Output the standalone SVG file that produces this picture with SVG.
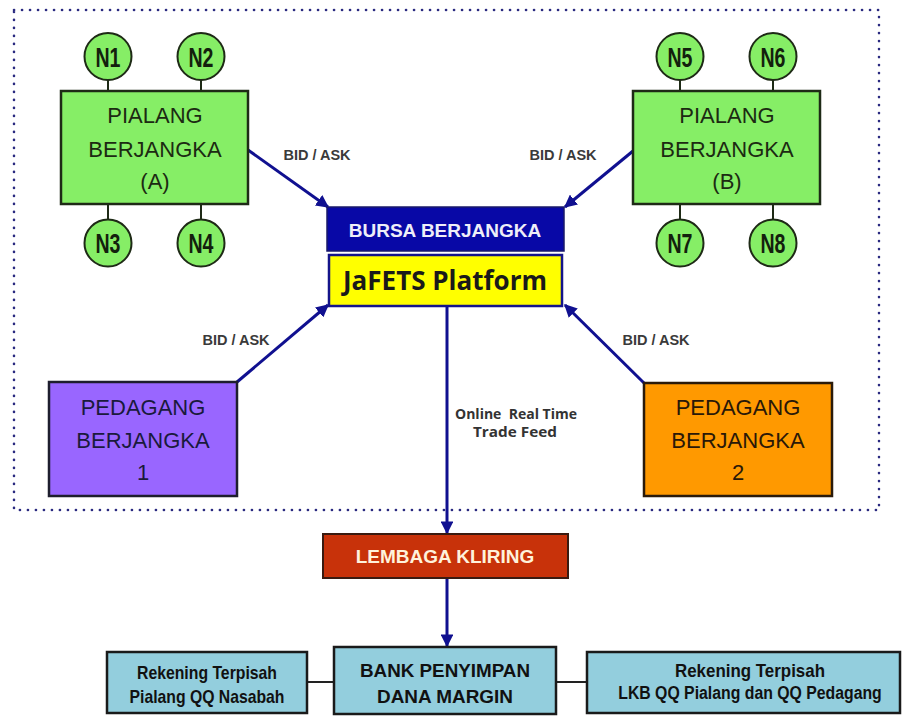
<svg xmlns="http://www.w3.org/2000/svg" width="904" height="716" viewBox="0 0 904 716">
<defs>
<style>
.frame{fill:none;stroke:#2a2a80;stroke-width:2.6;stroke-dasharray:0.1 7.9;stroke-linecap:round}
.green{fill:#86EE66;stroke:#1e2a16;stroke-width:2.5}
.circ{fill:#86EE66;stroke:#1e2a16;stroke-width:2}
.stub{stroke:#1e2a16;stroke-width:2}
.nlab{font-family:"Liberation Sans",Arial,sans-serif;font-weight:bold;font-size:28px;fill:#13200d;text-anchor:middle}
.big{font-family:"Liberation Sans",Arial,sans-serif;font-size:22px;text-anchor:middle}
.bid{font-family:"Liberation Sans",Arial,sans-serif;font-weight:bold;font-size:14.5px;fill:#3a3a3a;text-anchor:middle}
.conn{stroke:#101090;stroke-width:3;fill:none}
.thin{stroke:#222;stroke-width:2;fill:none}
.blue{fill:#93CEDD;stroke:#1a1a1a;stroke-width:2.5}
.narrow{font-family:"Liberation Sans",Arial,sans-serif;font-weight:bold;font-size:19px;fill:#111;text-anchor:middle}
</style>
<marker id="ah" viewBox="0 0 10 10" refX="9" refY="5" markerWidth="4.3" markerHeight="4.3" orient="auto" markerUnits="strokeWidth">
<path d="M0,0 L10,5 L0,10 z" fill="#101090"/>
</marker>
</defs>
<rect width="904" height="716" fill="#ffffff"/>
<rect class="frame" x="14" y="10" width="865" height="500"/>

<g id="connectors">
<line class="stub" x1="108" y1="80" x2="108" y2="91"/>
<line class="stub" x1="201" y1="80" x2="201" y2="91"/>
<line class="stub" x1="108" y1="204" x2="108" y2="219"/>
<line class="stub" x1="201" y1="204" x2="201" y2="219"/>
<line class="stub" x1="680" y1="80" x2="680" y2="91"/>
<line class="stub" x1="773" y1="80" x2="773" y2="91"/>
<line class="stub" x1="680" y1="204" x2="680" y2="219"/>
<line class="stub" x1="773" y1="204" x2="773" y2="219"/>
<line class="conn" x1="248" y1="150" x2="328" y2="207" marker-end="url(#ah)"/>
<line class="conn" x1="633" y1="151" x2="565" y2="207" marker-end="url(#ah)"/>
<line class="conn" x1="237" y1="382" x2="328" y2="305" marker-end="url(#ah)"/>
<line class="conn" x1="644" y1="383" x2="565" y2="305" marker-end="url(#ah)"/>
<line class="conn" x1="447" y1="306" x2="447" y2="533" marker-end="url(#ah)"/>
<line class="conn" x1="447" y1="578" x2="447" y2="646" marker-end="url(#ah)"/>
<line class="thin" x1="307" y1="682" x2="335" y2="682"/>
<line class="thin" x1="556" y1="682" x2="587" y2="682"/>
<text class="bid" x="317" y="160">BID / ASK</text>
<text class="bid" x="563" y="160">BID / ASK</text>
<text class="bid" x="236" y="345">BID / ASK</text>
<text class="bid" x="656" y="345">BID / ASK</text>
<text font-family="'Open Sans',sans-serif" font-weight="bold" font-size="13.5" fill="#333" text-anchor="middle" x="516" y="419" textLength="122" lengthAdjust="spacingAndGlyphs" style="white-space:pre">Online  Real Time</text>
<text font-family="'Open Sans',sans-serif" font-weight="bold" font-size="13.5" fill="#333" text-anchor="middle" x="515" y="437" textLength="84" lengthAdjust="spacingAndGlyphs">Trade Feed</text>
</g>

<g id="n1"><circle class="circ" cx="108" cy="56.5" r="23.5"/><text class="nlab" x="108" y="66.5" textLength="25" lengthAdjust="spacingAndGlyphs">N1</text></g>
<g id="n2"><circle class="circ" cx="201" cy="56.5" r="23.5"/><text class="nlab" x="201" y="66.5" textLength="25" lengthAdjust="spacingAndGlyphs">N2</text></g>
<g id="n3"><circle class="circ" cx="108" cy="243" r="23.5"/><text class="nlab" x="108" y="253" textLength="25" lengthAdjust="spacingAndGlyphs">N3</text></g>
<g id="n4"><circle class="circ" cx="201" cy="243" r="23.5"/><text class="nlab" x="201" y="253" textLength="25" lengthAdjust="spacingAndGlyphs">N4</text></g>
<g id="n5"><circle class="circ" cx="680" cy="56.5" r="23.5"/><text class="nlab" x="680" y="66.5" textLength="25" lengthAdjust="spacingAndGlyphs">N5</text></g>
<g id="n6"><circle class="circ" cx="773" cy="56.5" r="23.5"/><text class="nlab" x="773" y="66.5" textLength="25" lengthAdjust="spacingAndGlyphs">N6</text></g>
<g id="n7"><circle class="circ" cx="680" cy="243" r="23.5"/><text class="nlab" x="680" y="253" textLength="25" lengthAdjust="spacingAndGlyphs">N7</text></g>
<g id="n8"><circle class="circ" cx="773" cy="243" r="23.5"/><text class="nlab" x="773" y="253" textLength="25" lengthAdjust="spacingAndGlyphs">N8</text></g>

<g id="pialang-a">
<rect class="green" x="61" y="91" width="187" height="113"/>
<text class="big" fill="#1c2a12" x="155" y="123">PIALANG</text>
<text class="big" fill="#1c2a12" x="155" y="157">BERJANGKA</text>
<text class="big" fill="#1c2a12" x="155" y="189">(A)</text>
</g>
<g id="pialang-b">
<rect class="green" x="633" y="91" width="187" height="113"/>
<text class="big" fill="#1c2a12" x="727" y="123">PIALANG</text>
<text class="big" fill="#1c2a12" x="727" y="157">BERJANGKA</text>
<text class="big" fill="#1c2a12" x="727" y="189">(B)</text>
</g>

<g id="bursa">
<rect x="327" y="207" width="237" height="44" fill="#0808A6" stroke="#1a1a6a" stroke-width="1.5"/>
<text font-family="'Liberation Sans',Arial,sans-serif" font-weight="bold" font-size="19" fill="#EEEEF8" text-anchor="middle" x="445" y="237">BURSA BERJANGKA</text>
</g>
<g id="jafets">
<rect x="329" y="255" width="233" height="51" fill="#FFFF00" stroke="#14148a" stroke-width="2.5"/>
<text font-family="'Open Sans',sans-serif" font-weight="bold" font-size="26" fill="#1a1a1a" text-anchor="middle" x="445" y="290" textLength="204" lengthAdjust="spacingAndGlyphs">JaFETS Platform</text>
</g>

<g id="pedagang-1">
<rect x="49" y="382" width="188" height="114" fill="#9966FF" stroke="#1e1e2e" stroke-width="2.5"/>
<text class="big" font-size="23" fill="#1a1a3c" x="143" y="415">PEDAGANG</text>
<text class="big" font-size="23" fill="#1a1a3c" x="143" y="448">BERJANGKA</text>
<text class="big" font-size="23" fill="#1a1a3c" x="143" y="480">1</text>
</g>
<g id="pedagang-2">
<rect x="644" y="383" width="188" height="113" fill="#FF9900" stroke="#2a1a0a" stroke-width="2.5"/>
<text class="big" font-size="23" fill="#2a1808" x="738" y="415">PEDAGANG</text>
<text class="big" font-size="23" fill="#2a1808" x="738" y="448">BERJANGKA</text>
<text class="big" font-size="23" fill="#2a1808" x="738" y="480">2</text>
</g>

<g id="lembaga-kliring">
<rect x="323" y="534" width="245" height="44" fill="#C8320A" stroke="#3a1a10" stroke-width="2"/>
<text font-family="'Liberation Sans',Arial,sans-serif" font-weight="bold" font-size="19" fill="#FFF2DC" text-anchor="middle" x="445" y="563">LEMBAGA KLIRING</text>
</g>

<g id="bank">
<rect class="blue" x="334" y="647" width="222" height="67"/>
<text class="narrow" font-size="20" x="445" y="677" textLength="170" lengthAdjust="spacingAndGlyphs">BANK PENYIMPAN</text>
<text class="narrow" font-size="20" x="445" y="703" textLength="136" lengthAdjust="spacingAndGlyphs">DANA MARGIN</text>
</g>
<g id="rekening-pialang">
<rect class="blue" x="107" y="652" width="200" height="61"/>
<text class="narrow" x="207" y="679" textLength="140" lengthAdjust="spacingAndGlyphs">Rekening Terpisah</text>
<text class="narrow" x="207" y="703" textLength="155" lengthAdjust="spacingAndGlyphs">Pialang QQ Nasabah</text>
</g>
<g id="rekening-lkb">
<rect class="blue" x="587" y="652" width="313" height="61"/>
<text class="narrow" x="750" y="677" textLength="150" lengthAdjust="spacingAndGlyphs">Rekening Terpisah</text>
<text class="narrow" transform="translate(750 699) scale(0.833 1)" x="0" y="0">LKB QQ Pialang dan QQ Pedagang</text>
</g>
</svg>
